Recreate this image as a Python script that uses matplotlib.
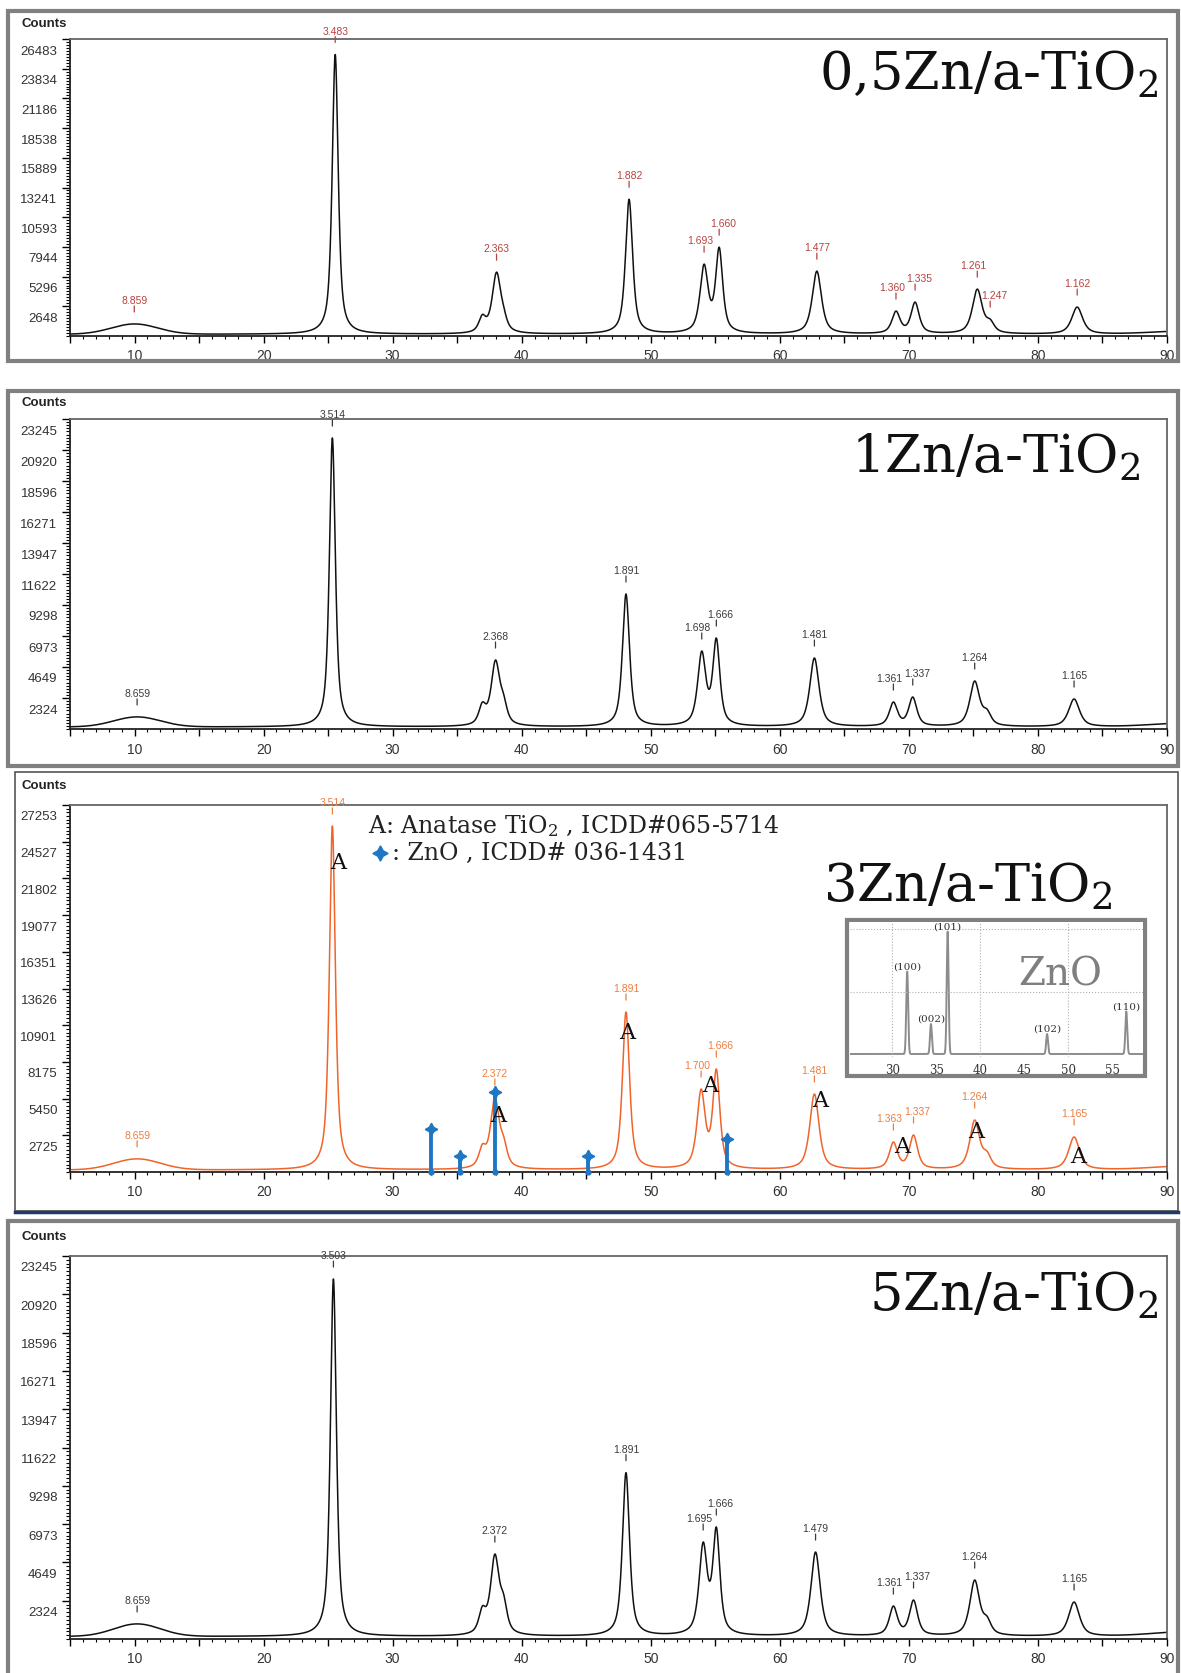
import numpy as np
import matplotlib
matplotlib.use("Agg")
import matplotlib.pyplot as plt
import matplotlib.transforms as mtransforms
from matplotlib.patches import Rectangle
from matplotlib.lines import Line2D
from matplotlib.ticker import MultipleLocator, FuncFormatter

plt.rcParams['font.family'] = ['Liberation Sans Narrow', 'Liberation Sans', 'DejaVu Sans']
plt.rcParams['mathtext.fontset'] = 'dejavuserif'

W, H = 1181, 1674  # figure size in pixels (dpi 100)

# ---------------- data ----------------
# 2-theta of the fitted reflections (13 per pattern) and their peak tops (counts)
fwhm = [0.55, 0.65, 0.8, 0.65, 0.65, 0.75, 0.65, 0.85, 0.75, 0.75, 0.9, 0.75, 1.0]

pos_05 = [25.55, 36.95, 38.05, 38.6, 48.32, 54.13, 55.30, 62.87, 69.00, 70.48, 75.30, 76.30, 83.04]
top_05 = [25100, 1920, 5694, 2670, 12193, 6407, 7920, 5784, 2224, 3025, 4182, 1512, 2580]
hump_05 = (10.0, 1067)
dlab_05 = ['8.859', '3.483', '2.363', '1.882', '1.693', '1.660', '1.477', '1.360', '1.335', '1.261', '1.247', '1.162']
dpos_05 = [9.98, 25.55, 38.05, 48.32, 54.13, 55.30, 62.87, 69.00, 70.48, 75.30, 76.30, 83.04]

pos_1 = [25.33, 36.95, 37.97, 38.6, 48.08, 53.95, 55.08, 62.68, 68.8, 70.3, 75.1, 76.05, 82.8]
top_1 = [21820, 2020, 5174, 2624, 10123, 5848, 6823, 5323, 2024, 2399, 3599, 1500, 2250]
hump_1 = (10.2, 900)
dlab_1 = ['8.659', '3.514', '2.368', '1.891', '1.698', '1.666', '1.481', '1.361', '1.337', '1.264', '1.165']
dpos_1 = [10.2, 25.33, 37.97, 48.08, 53.95, 55.08, 62.68, 68.8, 70.3, 75.1, 82.8]

pos_3 = [25.33, 36.95, 37.92, 38.6, 48.08, 53.9, 55.08, 62.68, 68.8, 70.36, 75.1, 76.05, 82.8]
top_3 = [25693, 2080, 5570, 2675, 11881, 6164, 7649, 5793, 2229, 2749, 3862, 1561, 2600]
hump_3 = (10.2, 967)
dlab_3 = ['8.659', '3.514', '2.372', '1.891', '1.700', '1.666', '1.481', '1.363', '1.337', '1.264', '1.165']
dpos_3 = [10.2, 25.33, 37.92, 48.08, 53.9, 55.08, 62.68, 68.8, 70.36, 75.1, 82.8]

pos_5 = [25.41, 36.95, 37.92, 38.6, 48.08, 54.06, 55.08, 62.77, 68.8, 70.36, 75.1, 76.05, 82.8]
top_5 = [21847, 2002, 5157, 2730, 10098, 5885, 6796, 5279, 2001, 2365, 3579, 1394, 2244]
hump_5 = (10.2, 909)
dlab_5 = ['8.659', '3.503', '2.372', '1.891', '1.695', '1.666', '1.479', '1.361', '1.337', '1.264', '1.165']
dpos_5 = [10.2, 25.41, 37.92, 48.08, 54.06, 55.08, 62.77, 68.8, 70.36, 75.1, 82.8]

base_counts = 150
hump_sigma = 1.8
tail_amp = 300

yticks_05 = ['2648', '5296', '7944', '10593', '13241', '15889', '18538', '21186', '23834', '26483']
yticks_1 = ['2324', '4649', '6973', '9298', '11622', '13947', '16271', '18596', '20920', '23245']
yticks_3 = ['2725', '5450', '8175', '10901', '13626', '16351', '19077', '21802', '24527', '27253']
yticks_5 = yticks_1

sample_names = [r'0,5Zn/a-TiO$_2$', r'1Zn/a-TiO$_2$', r'3Zn/a-TiO$_2$', r'5Zn/a-TiO$_2$']

# anatase "A" marks and ZnO reference sticks on the 3Zn pattern
a_pos = [25.8, 38.2, 48.2, 54.6, 63.1, 69.5, 75.2, 83.1]
a_cnt = [23020, 4234, 10397, 6461, 5347, 1932, 3046, 1189]
zno_pos = [33.0, 35.2, 37.9, 45.1, 55.9]
zno_cnt = [3194, 1189, 5941, 1189, 2452]

# ZnO inset pattern
zno_ref_pos = [31.7, 34.4, 36.3, 47.6, 56.6]
zno_ref_int = [0.66, 0.24, 0.98, 0.16, 0.34]
zno_ref_hkl = ['(100)', '(002)', '(101)', '(102)', '(110)']


def pv(x, c, w, eta=0.7):
    u = (x - c) / w
    return eta / (1 + 4 * u ** 2) + (1 - eta) * np.exp(-4 * np.log(2) * u ** 2)


def pattern(x, pos, tops, hump):
    pos = np.asarray(pos, float)
    w = np.asarray(fwhm, float)

    def extra(t):
        return (base_counts
                + (hump[1] - base_counts) * np.exp(-0.5 * ((t - hump[0]) / hump_sigma) ** 2)
                + tail_amp * np.exp(-0.5 * ((t - 92) / 3.0) ** 2))

    M = pv(pos[:, None], pos[None, :], w[None, :])
    amps = np.linalg.solve(M, np.asarray(tops, float) - extra(pos))
    return extra(x) + (amps[None, :] * pv(x[:, None], pos[None, :], w[None, :])).sum(axis=1)


def fig_rect(x0, y0, x1, y1, **kw):
    r = Rectangle((x0 / W, 1 - y1 / H), (x1 - x0) / W, (y1 - y0) / H,
                  transform=fig.transFigure, fill=False, **kw)
    fig.add_artist(r)


def px_axes(left, top, right, bottom):
    return fig.add_axes([left / W, 1 - bottom / H, (right - left) / W, (bottom - top) / H])


fig = plt.figure(figsize=(W / 100, H / 100), dpi=100)

# panel frames
fig_rect(8, 12, 1178, 362, ec='#808080', lw=3)
fig_rect(8, 392, 1178, 767, ec='#808080', lw=3)
fig_rect(15, 773, 1178, 1212, ec='#555555', lw=1.2)
fig.add_artist(Line2D([15 / W, 1178 / W], [1 - 1213 / H] * 2, color='#1f3a68', lw=2.5,
                      transform=fig.transFigure))
fig_rect(8, 1222, 1178, 1700, ec='#808080', lw=3)

x = np.linspace(5, 90, 8501)

panels = [
    dict(rect=(70, 40, 1167, 337), pos=pos_05, top=top_05, hump=hump_05, dlab=dlab_05, dpos=dpos_05,
         yt=yticks_05, color='#111111', lcolor='#b5433f', counts_y=24, name_xy=(1158, 90)),
    dict(rect=(70, 420, 1167, 730), pos=pos_1, top=top_1, hump=hump_1, dlab=dlab_1, dpos=dpos_1,
         yt=yticks_1, color='#111111', lcolor='#3a3a3a', counts_y=403, name_xy=(1140, 473)),
    dict(rect=(70, 806, 1167, 1173), pos=pos_3, top=top_3, hump=hump_3, dlab=dlab_3, dpos=dpos_3,
         yt=yticks_3, color='#f0642a', lcolor='#ef7d3e', counts_y=786, name_xy=(1112, 902)),
    dict(rect=(70, 1257, 1167, 1640), pos=pos_5, top=top_5, hump=hump_5, dlab=dlab_5, dpos=dpos_5,
         yt=yticks_5, color='#111111', lcolor='#3a3a3a', counts_y=1237, name_xy=(1158, 1311)),
]

label_shift = mtransforms.ScaledTranslation(0, -0.10, fig.dpi_scale_trans)
axes = []
for i, p in enumerate(panels):
    ax = px_axes(*p['rect'])
    axes.append(ax)
    y = pattern(x, p['pos'], p['top'], p['hump'])
    ax.plot(x, y, color=p['color'], lw=1.1)
    ymax = float(p['yt'][-1])
    ax.set_xlim(5, 90)
    ax.set_ylim(0, ymax)

    ticks = [ymax * k / 10 for k in range(1, 11)]
    ax.set_yticks(ticks, p['yt'])
    ax.yaxis.set_minor_locator(MultipleLocator(ymax / 100))
    ax.xaxis.set_major_locator(MultipleLocator(5))
    ax.xaxis.set_minor_locator(MultipleLocator(1))
    ax.xaxis.set_major_formatter(FuncFormatter(lambda v, _: f'{v:.0f}' if v % 10 == 0 else ''))
    ax.tick_params(axis='y', which='major', length=6, width=1, labelsize=9.5, labelcolor='#333333', pad=3)
    ax.tick_params(axis='y', which='minor', length=3, width=0.8)
    ax.tick_params(axis='x', which='major', length=5, width=1, labelsize=10, labelcolor='#333333', pad=4)
    ax.tick_params(axis='x', which='minor', length=2.5, width=0.8)
    for lab in ax.get_yticklabels():
        lab.set_transform(lab.get_transform() + label_shift)
    for s in ['left', 'bottom']:
        ax.spines[s].set_color('#222222')
        ax.spines[s].set_linewidth(1.3)
    for s in ['top', 'right']:
        ax.spines[s].set_color('#666666')
        ax.spines[s].set_linewidth(1.3)

    # d-spacing labels with their small marks; close pairs are pushed slightly apart
    dp = p['dpos']
    for j, (txt, xp) in enumerate(zip(p['dlab'], dp)):
        yp = np.interp(xp, x, y)
        dx = 0
        if j + 1 < len(dp) and dp[j + 1] - xp < 2:
            dx -= 4
        if j > 0 and xp - dp[j - 1] < 2:
            dx += 4
        ax.annotate('', xy=(xp, yp), xytext=(0, 18), textcoords='offset pixels',
                    arrowprops=dict(arrowstyle='-', color=p['lcolor'], lw=0.9, shrinkA=0, shrinkB=8.6),
                    annotation_clip=False)
        ax.annotate(txt, xy=(xp, yp), xytext=(dx, 19), textcoords='offset pixels',
                    ha='center', va='bottom', fontsize=7.5, color=p['lcolor'], annotation_clip=False)

    fig.text(22 / W, 1 - p['counts_y'] / H, 'Counts', fontsize=9.5, fontweight='bold',
             color='#222222', ha='left', va='center')
    nx, ny = p['name_xy']
    fig.text(nx / W, 1 - ny / H, sample_names[i], ha='right', va='baseline',
             fontsize=38, family='DejaVu Serif', color='#111111')

# extras on the 3Zn pattern
ax3 = axes[2]
zn_blue = '#1f77c4'
ax3.vlines(zno_pos, 0, zno_cnt, color=zn_blue, lw=2.8, zorder=4)
ax3.plot(zno_pos, zno_cnt, ls='none', marker=(4, 1, 0), ms=9, color=zn_blue, zorder=5)
ax3.plot(zno_pos, [0] * len(zno_pos), ls='none', marker='o', ms=3.5, color=zn_blue, zorder=5,
         clip_on=False)
for xa, ya in zip(a_pos, a_cnt):
    ax3.text(xa, ya, 'A', ha='center', va='center', fontsize=16, family='DejaVu Serif',
             color='#111111', zorder=6)

fig.text(368 / W, 1 - 833 / H, r'A: Anatase TiO$_2$ , ICDD#065-5714', fontsize=17,
         family='DejaVu Serif', color='#222222', va='baseline')
fig.add_artist(Line2D([380 / W], [1 - 854 / H], marker=(4, 1, 0), ms=11, color=zn_blue,
                      transform=fig.transFigure))
fig.text(392 / W, 1 - 860 / H, ': ZnO , ICDD# 036-1431', fontsize=17,
         family='DejaVu Serif', color='#222222', va='baseline')

# ZnO inset
fig.add_artist(Rectangle((847 / W, 1 - 1077 / H), (1145 - 847) / W, (1077 - 921) / H,
                         transform=fig.transFigure, fc='white', ec='#808080', lw=3, zorder=3))
axi = px_axes(850, 923, 1143, 1058)
axi.set_zorder(4)
xi = np.linspace(25.2, 58.5, 3000)
yi = np.zeros_like(xi)
for c, h in zip(zno_ref_pos, zno_ref_int):
    yi += h * np.exp(-4 * np.log(2) * ((xi - c) / 0.25) ** 2)
axi.plot(xi, yi, color='#8c8c8c', lw=1.4)
axi.set_xlim(25.2, 58.5)
axi.set_ylim(-0.024, 1.056)
for g in [30, 40, 50]:
    axi.axvline(g, color='#b0b0b0', lw=0.8, ls=':')
for g in [0.5, 1.0]:
    axi.axhline(g, color='#b0b0b0', lw=0.8, ls=':')
for s in axi.spines.values():
    s.set_visible(False)
axi.set_xticks([30, 35, 40, 45, 50, 55])
axi.set_yticks([])
axi.tick_params(axis='x', length=0, pad=4, labelsize=8.5, labelcolor='#333333')
for lab in axi.get_xticklabels():
    lab.set_family('DejaVu Serif')
for c, h, t in zip(zno_ref_pos, zno_ref_int, zno_ref_hkl):
    axi.annotate(t, xy=(c, h), xytext=(0, 1), textcoords='offset pixels', ha='center',
                 va='bottom', fontsize=7.5, family='DejaVu Serif', color='#333333')
fig.text(1060 / W, 1 - 975 / H, 'ZnO', ha='center', va='center', fontsize=28,
         family='DejaVu Serif', color='#7f7f7f', zorder=5)

fig.savefig('out.png', dpi=100)
